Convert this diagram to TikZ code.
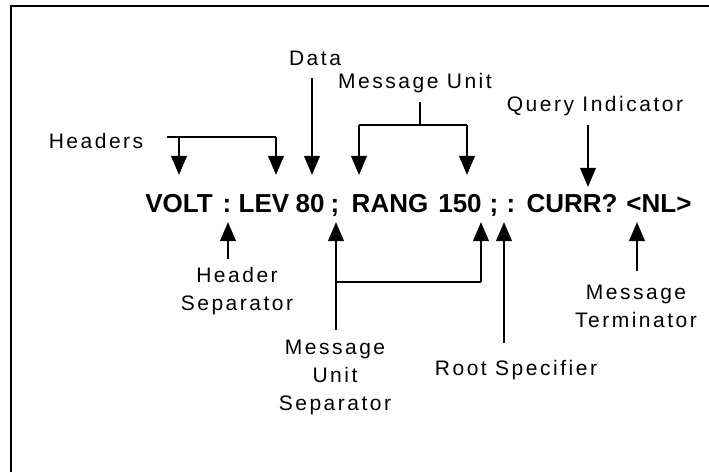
\documentclass[tikz,border=0pt]{standalone}
\usepackage{fontspec}
\setmainfont{Liberation Sans}
\newfontfamily\lblfont[LetterSpace=12]{Liberation Sans}
\usepackage{tikz}
\usetikzlibrary{positioning, arrows.meta}

\begin{document}
\begin{tikzpicture}[x=1pt, y=-1pt,
                lbl/.style={font=\lblfont\fontsize{21}{28}\selectfont, align=center, inner sep=0pt, anchor=base},
                lbls/.style={lbl, anchor=north},
                cmd/.style={font=\bfseries\fontsize{26}{30}\selectfont, anchor=base, inner xsep=0pt, inner ysep=10pt, text height=27pt, text depth=0pt},
                wire/.style={line width=1.1pt},
                arr/.style={wire, -{Triangle[width=16pt, length=19pt]}}]
                \useasboundingbox (0,0) rectangle (709,472);
                \draw[line width=2pt] (11,472) -- (11,6) -- (709,6);

                \foreach \nm/\x/\tx in {volt/179/VOLT, colA/227/{:}, lev/264/LEV, v80/310/80, semiA/335/{;},
                    rang/390/RANG, v150/460/150, semiB/494/{;}, colB/511/{:}, curr/572/CURR?, nl/659/{<NL>}}
                    \node[cmd] (\nm) at (\x,212) {\tx};

                \node[lbl] (hdr) at (96,148) {Headers};
                \node[lbl] (data) at (315,65) {Data};
                \node[lbl] (msgunit) at (415,88) {Message Unit};
                \node[lbl] (query) at (595,111) {Query Indicator};
                \node[lbls] (hdrsep) at (237,267) {Header\\Separator};
                \node[lbls] (musep) at (335,340) {Message\\Unit\\Separator};
                \node[lbl] (root) at (516,375) {Root Specifier};
                \node[lbls] (term) at (636,285) {Message\\Terminator};

                \coordinate (hdrL) at (167,137);
                \coordinate (hdrA) at (179,137);
                \coordinate (hdrB) at (276,137);
                \draw[wire] (hdrL) -- (hdrB);
                \draw[arr] (hdrA) -- (hdrA |- volt.north);
                \draw[arr] (hdrB) -- (hdrB |- lev.north);

                \coordinate (datatop) at (312,78);
                \draw[arr] (datatop) -- (datatop |- v80.north);

                \coordinate (mutop) at (420,102);
                \coordinate (muA) at (359,125);
                \coordinate (muB) at (467,125);
                \draw[wire] (mutop) -- (mutop |- muA) (muA) -- (muB);
                \draw[arr] (muA) -- (muA |- rang.north);
                \draw[arr] (muB) -- (muB |- v150.north);

                \coordinate (qtop) at (588,125);
                \draw[arr, shorten >=-12pt] (qtop) -- (qtop |- curr.north);

                \coordinate (hsbot) at (228,259);
                \draw[arr] (hsbot) -- (hsbot |- colA.south);

                \coordinate (musbot) at (336,330);
                \coordinate (musA) at (336,282);
                \coordinate (musB) at (481,282);
                \draw[arr] (musbot) -- (musbot |- semiA.south);
                \draw[wire] (musA) -- (musB);
                \draw[arr] (musB) -- (musB |- v150.south);

                \coordinate (rootbot) at (504,343);
                \draw[arr] (rootbot) -- (rootbot |- colB.south);

                \coordinate (termbot) at (637,271);
                \draw[arr] (termbot) -- (termbot |- nl.south);
            \end{tikzpicture}
\end{document}
